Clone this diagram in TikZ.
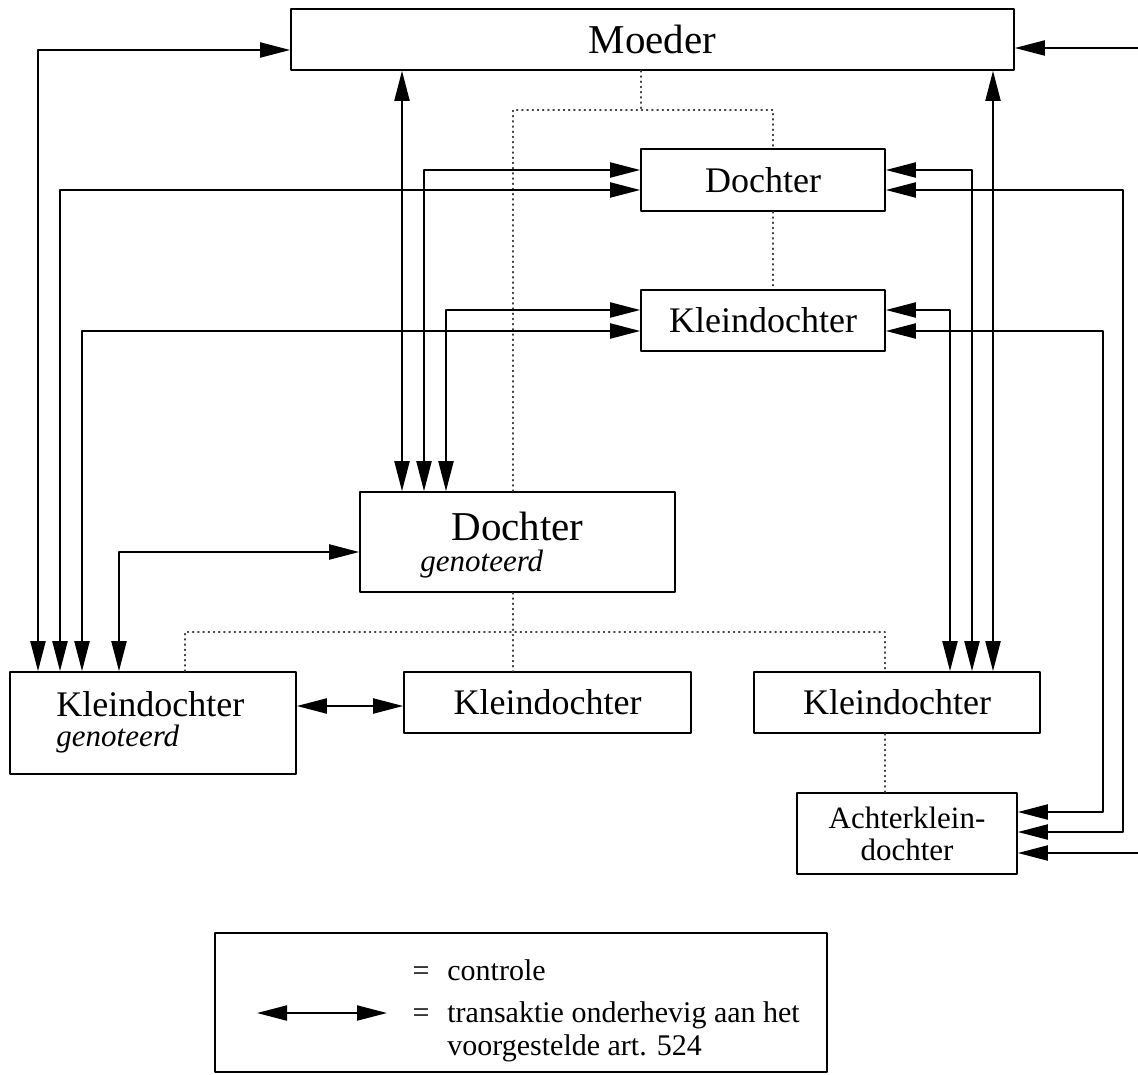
\documentclass[tikz,border=0pt]{standalone}
\usepackage{fontspec}
\setmainfont{Liberation Serif}
\usetikzlibrary{arrows.meta}
\begin{document}
\begin{tikzpicture}[x=0.5pt,y=-0.5pt,line cap=round,line join=round]
	\useasboundingbox (0,0) rectangle (1138,1074);
	\def\fa{\fontsize{20.5}{24}\selectfont}
	\def\fb{\fontsize{18}{21}\selectfont}
	\def\fc{\fontsize{15.5}{16}\selectfont}
	\def\fd{\fontsize{15}{17}\selectfont}
	\tikzset{box/.style={draw,line width=0.8pt,inner sep=0pt},
		tr/.style={line width=1pt,{Triangle[length=15pt,width=7.5pt]}-{Triangle[length=15pt,width=7.5pt]}},
		ctl/.style={dotted,line width=0.6pt,black!75}}
	% ondernemingen
	\node[box,minimum width=361.5pt,minimum height=30.5pt,font=\fa] (moeder) at (652.5,39.5) {Moeder};
	\node[box,minimum width=122pt,minimum height=31pt,font=\fb] (doch) at (763,180) {Dochter};
	\node[box,minimum width=122pt,minimum height=30.5pt,font=\fb] (klein) at (763,320.5) {Kleindochter};
	\node[box,minimum width=157.5pt,minimum height=50pt] (dgen) at (517.5,542) {};
	\node[font=\fa,anchor=base] (dgent) at (517.5,540) {Dochter};
	\node[font=\fc\itshape,anchor=base west,inner sep=0pt] (dgeni) at (420,571) {genoteerd};
	\node[box,minimum width=143pt,minimum height=51pt] (kgen) at (153,723) {};
	\node[font=\fb,anchor=base west,inner sep=0pt] (kgent) at (56,716) {Kleindochter};
	\node[font=\fc\itshape,anchor=base west,inner sep=0pt] (kgeni) at (56,746) {genoteerd};
	\node[box,minimum width=143.5pt,minimum height=30.5pt,font=\fb] (km) at (547.5,702.5) {Kleindochter};
	\node[box,minimum width=143pt,minimum height=30.5pt,font=\fb] (kr) at (897,702.5) {Kleindochter};
	\node[box,minimum width=110pt,minimum height=40.5pt,font=\fc,align=center] (achter) at (907,833.5) {Achterklein-\\dochter};
	% controle
	\draw[ctl] (moeder.south -| 641,0) -- (641,110);
	\draw[ctl] (dgen.north -| 513,0) |- (773,110) -- (doch.north -| 773,0);
	\draw[ctl] (doch.south -| 773,0) -- (klein.north -| 773,0);
	\draw[ctl] (dgen.south -| 513,0) -- (km.north -| 513,0);
	\draw[ctl] (kgen.north -| 185,0) |- (885,632) -- (kr.north -| 885,0);
	\draw[ctl] (kr.south -| 885,0) -- (achter.north -| 885,0);
	% transakties links
	\draw[tr] (moeder.west |- 0,50) -| (kgen.north -| 38,0);
	\draw[tr] (doch.west |- 0,190) -| (kgen.north -| 60,0);
	\draw[tr] (klein.west |- 0,331) -| (kgen.north -| 82,0);
	\draw[tr] (dgen.west |- 0,552) -| (kgen.north -| 119,0);
	\draw[tr] (moeder.south -| 402,0) -- (dgen.north -| 402,0);
	\draw[tr] (doch.west |- 0,170) -| (dgen.north -| 424,0);
	\draw[tr] (klein.west |- 0,310) -| (dgen.north -| 446,0);
	\draw[tr] (kgen.east |- 0,706) -- (km.west |- 0,706);
	% transakties rechts
	\draw[tr] (moeder.south -| 993,0) -- (kr.north -| 993,0);
	\draw[tr] (doch.east |- 0,170) -| (kr.north -| 972,0);
	\draw[tr] (klein.east |- 0,310) -| (kr.north -| 950,0);
	\draw[tr] (klein.east |- 0,331) -- (1103,331) |- (achter.east |- 0,812);
	\draw[tr] (doch.east |- 0,190) -- (1123,190) |- (achter.east |- 0,832);
	\draw[tr] (moeder.east |- 0,48) -- (1150,48) |- (achter.east |- 0,853);
	% legenda
	\node[draw,line width=0.8pt,minimum width=306pt,minimum height=69.5pt] (legenda) at (521,1002.5) {};
	\coordinate (la) at (257,1013);
	\coordinate (lb) at (387,1013);
	\draw[tr] (la) -- (lb);
	\node[font=\fd,anchor=base] (eqa) at (421,980) {=};
	\node[font=\fd,anchor=base west,inner sep=0pt] (lc) at (447,980) {controle};
	\node[font=\fd,anchor=base] (eqb) at (421,1022) {=};
	\node[font=\fd,anchor=base west,inner sep=0pt] (lt) at (447,1022) {transaktie onderhevig aan het};
	\node[font=\fd,anchor=base west,inner sep=0pt] (lv) at (447,1055) {voorgestelde art. 524};
\end{tikzpicture}
\end{document}
